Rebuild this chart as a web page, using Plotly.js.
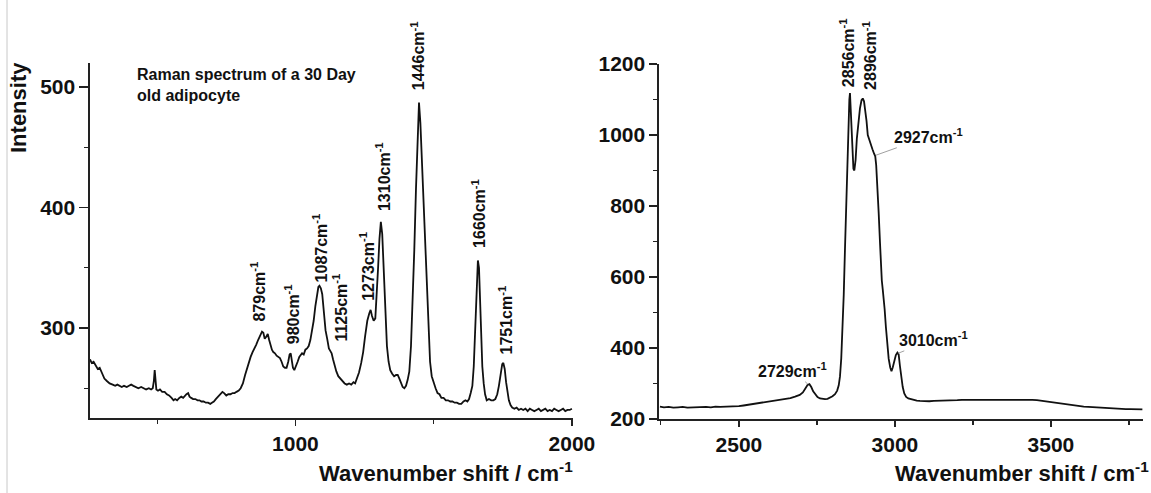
<!DOCTYPE html>
<html>
<head>
<meta charset="utf-8">
<script src="https://cdn.plot.ly/plotly-3.0.1.min.js"></script>
<style>html,body{margin:0;padding:0;background:#fff;}#chart{width:1151px;height:493px;}</style>
</head>
<body>
<div id="chart"></div>
<script>
// Left panel: fingerprint region
const fingerprintShift = [257,263,270,278,285,292,300,309,318,328,339,348,356,365,372,380,390,398,406,414,423,432,442,451,460,470,478,484,488,491,494,497,503,510,518,527,535,543,552,559,565,572,580,587,594,600,606,612,617,623,630,638,646,653,660,668,676,684,692,698,705,712,720,728,736,742,750,757,765,773,780,787,795,802,810,818,825,832,838,845,852,858,865,872,879,884,889,895,900,905,910,915,920,926,932,938,944,950,956,962,968,974,979,983,987,991,996,1002,1008,1014,1020,1024,1030,1036,1042,1048,1054,1060,1066,1072,1078,1083,1087,1092,1097,1103,1109,1115,1121,1126,1131,1136,1142,1148,1155,1162,1170,1178,1186,1194,1202,1210,1216,1222,1230,1238,1245,1252,1260,1267,1272,1277,1283,1289,1294,1299,1304,1309,1314,1319,1325,1331,1337,1343,1350,1357,1364,1370,1376,1382,1388,1394,1400,1406,1412,1418,1424,1430,1436,1442,1447,1452,1457,1462,1467,1472,1477,1482,1487,1493,1500,1507,1514,1521,1528,1536,1544,1552,1560,1568,1576,1584,1592,1600,1608,1615,1622,1628,1634,1640,1645,1650,1655,1660,1664,1668,1672,1676,1681,1686,1692,1700,1708,1716,1723,1730,1736,1742,1748,1752,1757,1762,1767,1772,1778,1784,1792,1800,1808,1816,1824,1832,1840,1848,1856,1864,1872,1880,1888,1896,1904,1912,1920,1928,1936,1944,1952,1960,1968,1976,1984,1992,2000];
const fingerprintIntensity = [274,271,272,268,266,267,262,258,256,254,253,252,253,252,251,252,251,252,253,252,251,250,251,250,249,250,249,250,256,265,256,249,248,249,247,247,245,244,242,240,241,240,242,243,242,244,245,246,243,242,241,241,240,240,239,239,238,238,237,238,239,241,243,245,247,246,244,245,245,246,246,247,248,250,254,261,267,271,276,280,283,286,290,293,297,296,291,293,295,290,285,282,280,279,277,276,275,272,268,267,267,272,278,279,274,267,265,268,272,276,278,279,278,282,283,285,290,298,306,318,329,334,335,333,328,313,298,291,283,281,279,274,268,264,260,258,256,254,253,254,253,255,254,258,263,271,280,293,306,312,315,310,306,308,325,350,374,388,378,348,310,285,272,265,262,260,261,261,258,255,251,250,252,257,264,285,320,365,415,466,487,470,440,420,395,360,320,290,272,260,254,250,246,245,242,242,240,240,239,239,238,238,237,237,239,240,239,241,246,252,268,300,335,356,350,318,288,268,254,245,240,241,240,240,241,245,252,262,270,271,266,255,246,240,236,234,233,234,232,233,232,233,231,233,232,231,232,233,231,232,233,231,232,231,233,232,231,232,233,231,232,232,233];

// Right panel: high-wavenumber region
const highShift = [2247,2260,2275,2290,2305,2320,2335,2350,2365,2380,2395,2410,2425,2440,2455,2470,2485,2500,2515,2530,2545,2560,2575,2590,2605,2620,2635,2650,2665,2680,2695,2705,2712,2720,2726,2732,2738,2745,2752,2760,2768,2776,2784,2792,2800,2808,2815,2820,2824,2828,2832,2836,2840,2844,2848,2851,2854,2856,2858,2861,2864,2867,2870,2874,2878,2883,2888,2893,2897,2901,2905,2909,2913,2918,2923,2928,2933,2937,2940,2944,2948,2952,2955,2958,2961,2964,2967,2971,2975,2980,2985,2989,2993,2998,3003,3008,3012,3016,3020,3025,3030,3036,3043,3050,3060,3070,3080,3095,3110,3125,3140,3155,3170,3185,3200,3215,3230,3245,3260,3275,3290,3305,3320,3335,3350,3365,3380,3395,3410,3425,3440,3455,3470,3485,3500,3515,3530,3545,3560,3575,3590,3605,3620,3635,3650,3665,3680,3695,3710,3725,3740,3755,3770,3785,3793];
const highIntensity = [235,233,234,232,233,234,232,233,234,233,234,233,235,234,234,235,234,236,238,240,242,245,247,249,251,253,255,257,259,263,268,275,285,296,298,290,278,268,262,258,256,256,257,260,264,270,280,295,320,370,440,550,680,820,930,1020,1100,1118,1080,990,930,905,900,930,990,1040,1075,1098,1103,1095,1070,1040,1000,985,975,960,948,940,915,860,780,700,630,590,565,545,510,460,410,370,345,335,345,368,380,387,382,350,315,290,272,262,258,256,254,252,251,250,250,251,251,252,252,253,253,254,254,255,255,254,255,255,254,254,255,254,255,256,256,255,254,253,251,250,249,247,245,243,241,239,237,235,234,233,232,231,231,230,229,229,228,228,227,227,227];

// Peak labels
const leftLabelText = ['879','980','1087','1125','1273','1310','1446','1660','1751'];
const leftLabelX = [866,986,1090,1161,1259,1317,1443,1663,1762];
const leftLabelY = [304,284.5,336,287,320.5,395,496,365,276];

const rightRotText = ['2856','2896'];
const rightRotX = [2849,2918];
const rightRotY = [1130,1121];

const rightFlatText = ['2729','2927','3010'];
const rightFlatX = [2721,2939,3010];
const rightFlatY = [298,943,385];
const rightFlatAx = [-15,53,35];
const rightFlatAy = [-14,-19,-14];

const FONT = 'Liberation Sans, Arial, sans-serif';
const W = 1151, H = 493;
const px = v => v / W;
const py = v => 1 - v / H;

const traces = [
  {x: fingerprintShift, y: fingerprintIntensity, xaxis: 'x', yaxis: 'y', type: 'scatter', mode: 'lines',
   line: {color: '#111', width: 1.8}, hoverinfo: 'skip'},
  {x: highShift, y: highIntensity, xaxis: 'x2', yaxis: 'y2', type: 'scatter', mode: 'lines',
   line: {color: '#111', width: 1.8}, hoverinfo: 'skip'}
];

const tickFont = {family: FONT, size: 21, color: '#111', weight: 'bold'};
function axisBase(extra) {
  return Object.assign({
    showgrid: false, zeroline: false, showline: true, linecolor: '#222', linewidth: 1.6,
    ticks: 'outside', tickcolor: '#222', tickwidth: 1.5, tickfont: tickFont, fixedrange: true
  }, extra);
}

const annotations = [];
leftLabelText.forEach((t, i) => annotations.push({
  xref: 'x', yref: 'y', x: leftLabelX[i], y: leftLabelY[i], text: t + 'cm<sup>-1</sup>',
  textangle: -90, showarrow: false, xanchor: 'center', yanchor: 'bottom',
  font: {family: FONT, size: 16, color: '#111', weight: 'bold'}
}));
rightRotText.forEach((t, i) => annotations.push({
  xref: 'x2', yref: 'y2', x: rightRotX[i], y: rightRotY[i], text: t + 'cm<sup>-1</sup>',
  textangle: -90, showarrow: false, xanchor: 'center', yanchor: 'bottom',
  font: {family: FONT, size: 16, color: '#111', weight: 'bold'}
}));
rightFlatText.forEach((t, i) => annotations.push({
  xref: 'x2', yref: 'y2', x: rightFlatX[i], y: rightFlatY[i], text: t + 'cm<sup>-1</sup>',
  showarrow: true, arrowhead: 0, arrowwidth: 0.8, arrowcolor: '#888', standoff: 0,
  ax: rightFlatAx[i], ay: rightFlatAy[i],
  font: {family: FONT, size: 16, color: '#111', weight: 'bold'}
}));
annotations.push({
  xref: 'paper', yref: 'paper', x: px(135), y: py(64), xanchor: 'left', yanchor: 'top', align: 'left',
  text: 'Raman spectrum of a 30 Day<br>old adipocyte', showarrow: false,
  font: {family: FONT, size: 16, color: '#111', weight: 'bold'}
});
annotations.push({
  xref: 'paper', yref: 'paper', x: px(19), y: py(108), textangle: -90, showarrow: false,
  xanchor: 'center', yanchor: 'middle', text: 'Intensity',
  font: {family: FONT, size: 22, color: '#111', weight: 'bold'}
});
annotations.push({
  xref: 'paper', yref: 'paper', x: px(446), y: py(472), showarrow: false,
  xanchor: 'center', yanchor: 'middle', text: 'Wavenumber shift / cm<sup>-1</sup>',
  font: {family: FONT, size: 22, color: '#111', weight: 'bold'}
});
annotations.push({
  xref: 'paper', yref: 'paper', x: px(1022), y: py(472), showarrow: false,
  xanchor: 'center', yanchor: 'middle', text: 'Wavenumber shift / cm<sup>-1</sup>',
  font: {family: FONT, size: 22, color: '#111', weight: 'bold'}
});

const layout = {
  width: W, height: H,
  margin: {l: 0, r: 0, t: 0, b: 0},
  paper_bgcolor: '#fff', plot_bgcolor: '#fff',
  showlegend: false,
  xaxis: axisBase({domain: [px(90), px(573)], range: [257, 2004], anchor: 'y',
    tick0: 0, dtick: 1000, ticklen: 6, minor: {dtick: 500, tick0: 0, ticklen: 4, tickcolor: '#222', tickwidth: 1.2, ticks: 'outside'}}),
  yaxis: axisBase({domain: [1 - 418 / H, 1 - 63 / H], range: [225.3, 519.9], anchor: 'x',
    tick0: 0, dtick: 100, ticklen: 9, minor: {dtick: 50, tick0: 0, ticklen: 4, tickcolor: '#222', tickwidth: 1.2, ticks: 'outside'}}),
  xaxis2: axisBase({domain: [px(659), px(1143)], range: [2244, 3795], anchor: 'y2',
    tick0: 0, dtick: 500, ticklen: 6, minor: {dtick: 250, tick0: 0, ticklen: 4, tickcolor: '#222', tickwidth: 1.2, ticks: 'outside'}}),
  yaxis2: axisBase({domain: [1 - 419 / H, 1 - 64 / H], range: [200, 1200], anchor: 'x2',
    tick0: 0, dtick: 200, ticklen: 8, minor: {dtick: 100, tick0: 0, ticklen: 4, tickcolor: '#222', tickwidth: 1.2, ticks: 'outside'}}),
  annotations: annotations,
  shapes: [{type: 'line', xref: 'paper', yref: 'paper', x0: px(7), x1: px(7), y0: 0, y1: 1,
    line: {color: '#c8c8c8', width: 1}}]
};

Plotly.newPlot('chart', traces, layout, {staticPlot: true, displayModeBar: false});
</script>
</body>
</html>
